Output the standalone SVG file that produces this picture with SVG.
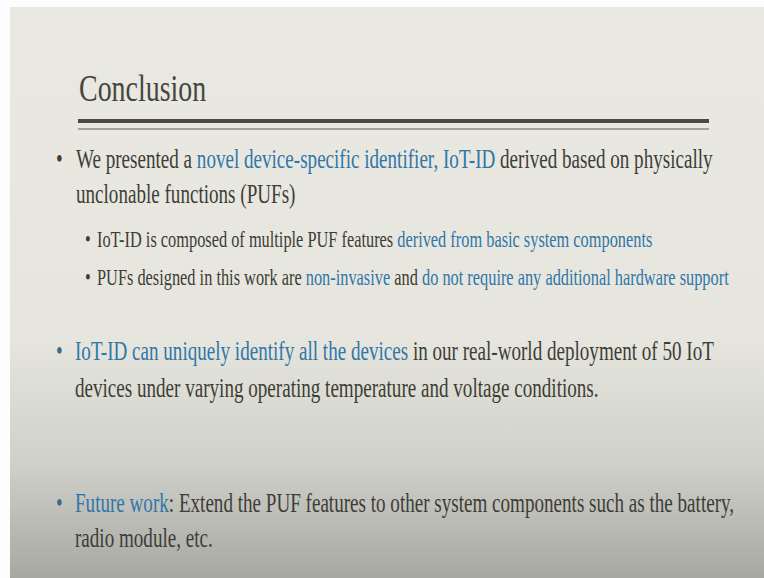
<svg xmlns="http://www.w3.org/2000/svg" width="764" height="578" viewBox="0 0 764 578">
<defs>
<linearGradient id="bg" x1="0" y1="0" x2="0" y2="1">
<stop offset="0" stop-color="#e9e9e2"/>
<stop offset="0.58" stop-color="#e6e6de"/>
<stop offset="0.8" stop-color="#cfd0c9"/>
<stop offset="1" stop-color="#a7a8a2"/>
</linearGradient>
<style>
text{font-family:"Liberation Serif","Times New Roman",serif;fill:#3d3d36}
.t{font-size:38.8px;fill:#46463e}
.m{font-size:27.2px}
.s{font-size:23.3px}
.b{fill:#3076a8}
.bd{fill:#3a6a8e}
</style>
</defs>
<rect x="0" y="0" width="764" height="578" fill="#fdfdfd"/>
<rect x="10" y="7" width="754" height="571" fill="url(#bg)"/>
<g id="title">
<text class="t" transform="translate(79,101) scale(0.72,1)">Conclusion</text>
<rect x="78" y="119" width="631" height="4" fill="#4a4a42"/>
<rect x="78" y="128.3" width="631" height="1.4" fill="#85867e"/>
</g>
<g id="bullet1">
<text class="m" transform="translate(56,168) scale(0.702,1)">•</text>
<text class="m" transform="translate(76,168) scale(0.702,1)">We presented a <tspan class="b">novel device-specific identifier, IoT-ID</tspan> derived based on physically</text>
<text class="m" transform="translate(76,203) scale(0.702,1)">unclonable functions (PUFs)</text>
</g>
<g id="sub1">
<text class="s" transform="translate(85,247) scale(0.702,1)">•</text>
<text class="s" transform="translate(97,247) scale(0.702,1)">IoT-ID is composed of multiple PUF features <tspan class="b">derived from basic system components</tspan></text>
</g>
<g id="sub2">
<text class="s" transform="translate(85,285) scale(0.702,1)">•</text>
<text class="s" transform="translate(97,285) scale(0.702,1)">PUFs designed in this work are <tspan class="b">non-invasive</tspan> and <tspan class="b">do not require any additional hardware support</tspan></text>
</g>
<g id="bullet2">
<text class="m bd" transform="translate(56,360) scale(0.702,1)">•</text>
<text class="m" transform="translate(75,360) scale(0.702,1)"><tspan class="b">IoT-ID can uniquely identify all the devices</tspan> in our real-world deployment of 50 IoT</text>
<text class="m" transform="translate(75,397) scale(0.702,1)">devices under varying operating temperature and voltage conditions.</text>
</g>
<g id="bullet3">
<text class="m bd" transform="translate(56,512) scale(0.702,1)">•</text>
<text class="m" transform="translate(75,512) scale(0.702,1)"><tspan class="b">Future work</tspan>: Extend the PUF features to other system components such as the battery,</text>
<text class="m" transform="translate(75,547) scale(0.702,1)">radio module, etc.</text>
</g>
</svg>
